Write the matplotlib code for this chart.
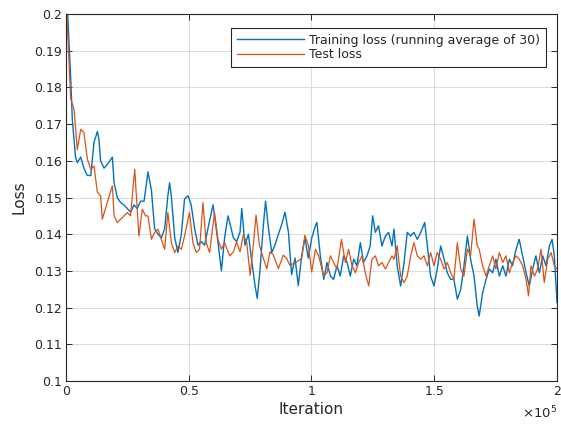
import numpy as np
import matplotlib
matplotlib.use("Agg")
import matplotlib.pyplot as plt

# iterations in thousands
train_iter = [0, 0.5, 1.9, 2.6, 3.9, 4.6, 6.0, 7.3, 8.7, 10.1, 11.4, 12.8, 13.4, 14.1, 15.5, 16.8, 18.9, 19.6,
              20.9, 22.3, 23.6, 25.0, 26.3, 27.7, 29.0, 30.4, 31.8, 33.4, 34.8, 36.1, 37.5, 38.8, 40.2, 41.5,
              42.2, 42.9, 44.3, 45.6, 47.0, 48.3, 49.7, 51.0, 52.4, 53.8, 55.1, 56.5, 57.8, 59.9, 61.2, 62.6,
              63.3, 64.6, 66.0, 68.2, 69.5, 70.9, 71.6, 72.9, 74.3, 75.6, 77.0, 77.9, 79.0, 80.4, 81.3, 82.4,
              83.8, 85.1, 86.5, 87.8, 89.2, 90.6, 91.9, 93.3, 94.6, 96.0, 97.3, 98.7, 100.1, 101.6, 102.2,
              103.6, 105.0, 106.3, 107.7, 109.0, 110.4, 111.7, 113.1, 114.5, 115.8, 117.2, 118.5, 119.9,
              121.2, 122.6, 123.9, 124.9, 126.0, 127.3, 128.7, 130.1, 131.4, 132.8, 133.6, 134.9, 136.3,
              137.7, 139.0, 140.4, 141.7, 143.1, 144.5, 146.1, 147.2, 148.5, 149.9, 151.2, 152.6, 154.0,
              155.3, 156.7, 158.0, 159.4, 160.8, 162.1, 163.5, 164.8, 166.2, 167.5, 168.3, 169.7, 171.1,
              172.4, 173.8, 175.1, 176.5, 177.9, 179.2, 180.6, 181.9, 183.3, 184.6, 186.0, 187.4, 188.7,
              190.1, 191.4, 192.8, 194.2, 195.5, 196.9, 198.0, 198.9, 200.0]
train_loss = [0.215, 0.203, 0.183, 0.171, 0.161, 0.1595, 0.161, 0.158, 0.156, 0.156, 0.165, 0.168, 0.166, 0.160,
              0.158, 0.159, 0.161, 0.154, 0.150, 0.1486, 0.148, 0.147, 0.146, 0.148, 0.147, 0.149, 0.149, 0.157,
              0.152, 0.1415, 0.140, 0.139, 0.1415, 0.1505, 0.154, 0.1505, 0.139, 0.135, 0.140, 0.1496, 0.1505,
              0.148, 0.1415, 0.137, 0.138, 0.137, 0.1415, 0.148, 0.1415, 0.134, 0.130, 0.139, 0.145, 0.139,
              0.138, 0.1406, 0.147, 0.137, 0.140, 0.133, 0.126, 0.1225, 0.130, 0.1425, 0.149, 0.142, 0.135,
              0.137, 0.140, 0.1425, 0.146, 0.1406, 0.129, 0.1335, 0.126, 0.134, 0.139, 0.1335, 0.139, 0.1423,
              0.1432, 0.1341, 0.1277, 0.1323, 0.1286, 0.1277, 0.1314, 0.1286, 0.1341, 0.1323, 0.1286, 0.1332,
              0.1314, 0.1377, 0.1323, 0.1341, 0.1368, 0.145, 0.1405, 0.1423, 0.1368, 0.1395, 0.1405, 0.1368,
              0.1414, 0.1314, 0.1259, 0.1323, 0.1405, 0.1395, 0.1405, 0.1386, 0.1405, 0.1432, 0.1368, 0.1286,
              0.1259, 0.1305, 0.1368, 0.1332, 0.1295, 0.1277, 0.1277, 0.1223, 0.125, 0.1314, 0.1395, 0.1332,
              0.1286, 0.1205, 0.1177, 0.1241, 0.1277, 0.1305, 0.1295, 0.1332, 0.1286, 0.1314, 0.1286, 0.1332,
              0.1314, 0.1359, 0.1386, 0.1341, 0.1295, 0.1259, 0.1305, 0.1341, 0.1295, 0.1341, 0.1314, 0.1368,
              0.1386, 0.1341, 0.1214]

test_iter = [0, 1.9, 3.3, 4.6, 6.0, 7.3, 8.7, 10.1, 11.4, 12.8, 14.1, 14.8, 16.8, 18.9, 19.6, 20.9, 22.3, 23.6,
             25.0, 26.3, 28.0, 29.0, 29.7, 31.1, 32.4, 33.4, 34.8, 36.1, 37.5, 38.8, 40.2, 41.5, 42.9, 44.3,
             45.6, 47.0, 48.3, 50.3, 51.7, 53.1, 54.4, 55.8, 57.1, 58.5, 60.5, 61.9, 63.3, 64.6, 66.7, 68.2,
             69.5, 70.9, 72.2, 73.6, 75.0, 76.3, 77.4, 78.8, 80.4, 81.8, 83.1, 84.5, 86.5, 88.5, 89.9, 91.2,
             94.0, 96.0, 97.3, 98.7, 100.1, 101.6, 102.9, 105.0, 106.3, 107.7, 109.0, 110.4, 112.2, 113.8,
             115.1, 116.5, 117.9, 119.2, 120.6, 121.9, 123.3, 124.6, 126.0, 127.3, 128.7, 130.1, 131.4, 132.8,
             133.6, 134.9, 136.3, 137.7, 139.0, 140.4, 141.7, 143.1, 144.5, 145.8, 147.2, 148.5, 149.9, 151.2,
             152.6, 154.0, 155.3, 156.7, 158.0, 159.4, 160.8, 162.1, 163.5, 164.8, 166.2, 167.5, 168.3, 169.7,
             171.1, 172.4, 173.8, 175.1, 176.5, 177.9, 179.2, 180.6, 181.9, 183.3, 184.6, 186.0, 187.4, 188.4,
             189.4, 190.8, 192.1, 193.5, 194.8, 196.2, 197.6, 198.9, 200.0]
test_loss = [0.205, 0.177, 0.174, 0.163, 0.1686, 0.1677, 0.1605, 0.1577, 0.1586, 0.1514, 0.1505, 0.1441, 0.1486,
             0.1532, 0.145, 0.1432, 0.1441, 0.145, 0.1459, 0.145, 0.1577, 0.1468, 0.1395, 0.1468, 0.145, 0.145,
             0.1386, 0.1405, 0.1414, 0.1386, 0.1359, 0.1459, 0.1377, 0.135, 0.1368, 0.1359, 0.1395, 0.1459,
             0.1377, 0.135, 0.1359, 0.1486, 0.1377, 0.135, 0.1459, 0.1386, 0.1359, 0.1377, 0.1341, 0.1352,
             0.1379, 0.1352, 0.1397, 0.1379, 0.1288, 0.137, 0.1452, 0.137, 0.1334, 0.1306, 0.1352, 0.1343,
             0.1306, 0.1343, 0.1334, 0.1315, 0.1325, 0.1334, 0.1397, 0.137, 0.1297, 0.1359, 0.1341, 0.1286,
             0.1295, 0.1341, 0.1323, 0.1305, 0.1386, 0.1323, 0.1359, 0.1314, 0.1295, 0.1323, 0.1341, 0.1295,
             0.1259, 0.1332, 0.1341, 0.1314, 0.1323, 0.1305, 0.1323, 0.1341, 0.1332, 0.1368, 0.1286, 0.1268,
             0.1286, 0.1341, 0.1377, 0.1341, 0.1332, 0.1341, 0.1314, 0.135, 0.1314, 0.135, 0.1332, 0.1305,
             0.1323, 0.1295, 0.1277, 0.1377, 0.1305, 0.1286, 0.1359, 0.1341, 0.1441, 0.1368, 0.1359, 0.1314,
             0.1286, 0.1314, 0.1341, 0.1305, 0.135, 0.1323, 0.1341, 0.1295, 0.1323, 0.1341, 0.1332, 0.1314,
             0.1277, 0.1232, 0.1314, 0.1286, 0.1305, 0.1359, 0.1268, 0.1332, 0.135, 0.1314, 0.1305]

x_ticks = [0, 0.5e5, 1e5, 1.5e5, 2e5]
x_ticklabels = ['0', '0.5', '1', '1.5', '2']
y_ticks = [0.1, 0.11, 0.12, 0.13, 0.14, 0.15, 0.16, 0.17, 0.18, 0.19, 0.2]
y_ticklabels = ['0.1', '0.11', '0.12', '0.13', '0.14', '0.15', '0.16', '0.17', '0.18', '0.19', '0.2']

dark = '#262626'
plt.rcParams['font.family'] = 'DejaVu Sans'

fig = plt.figure(figsize=(5.61, 4.26), dpi=100)
ax = fig.add_axes([0.1176, 0.1056, 0.8753, 0.8615])

ax.plot(np.array(train_iter) * 1e3, train_loss, color='#0072BD', lw=1.0, label='Training loss (running average of 30)')
ax.plot(np.array(test_iter) * 1e3, test_loss, color='#D95319', lw=0.9, label='Test loss')

ax.set_xlim(0, 2e5)
ax.set_ylim(0.1, 0.2)
ax.set_xticks(x_ticks)
ax.set_xticklabels(x_ticklabels)
ax.set_yticks(y_ticks)
ax.set_yticklabels(y_ticklabels)
ax.text(1.0, -0.088, r'$\times\mathdefault{10^5}$', transform=ax.transAxes, ha='right', va='center',
        fontsize=9.5, color=dark)

ax.grid(True, color='#dcdcdc', lw=0.8)
ax.set_axisbelow(True)
ax.tick_params(direction='in', length=4, width=0.7, colors=dark, labelsize=9,
               top=True, right=True, pad=3)
for s in ax.spines.values():
    s.set_color(dark)
    s.set_linewidth(0.8)

ax.set_xlabel('Iteration', fontsize=11, color=dark, labelpad=3)
ax.set_ylabel('Loss', fontsize=11, color=dark, labelpad=5)

leg = ax.legend(loc='upper right', bbox_to_anchor=(0.977, 0.962), borderaxespad=0,
                fontsize=9, fancybox=False, framealpha=1, handlelength=5.4,
                handletextpad=0.4, borderpad=0.45, labelspacing=0.12)
leg.get_frame().set_edgecolor(dark)
leg.get_frame().set_linewidth(0.8)
for t in leg.get_texts():
    t.set_color(dark)

fig.savefig('out.png', dpi=100)
